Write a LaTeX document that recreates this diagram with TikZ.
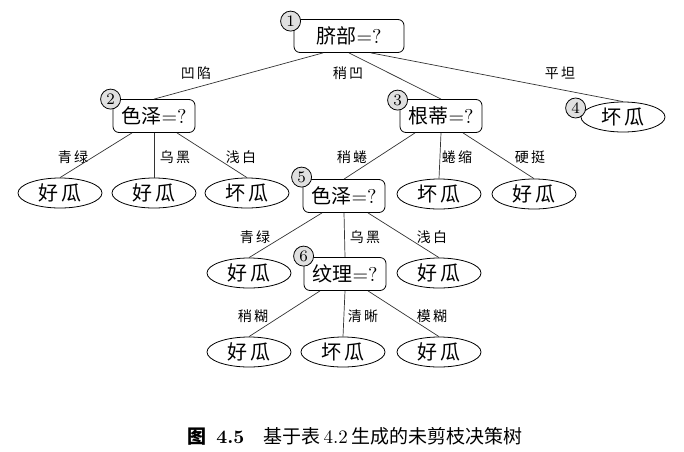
\documentclass[tikz,border=0pt]{standalone}
\usepackage{fontspec}
\newfontfamily\cjk{Noto Sans CJK SC}
\usetikzlibrary{shapes.geometric, calc}

\begin{document}
\begin{tikzpicture}[x=0.5pt, y=-0.5pt,
    decision/.style={rectangle, draw, rounded corners=3pt, minimum width=41pt, minimum height=16.5pt, inner sep=1pt, font=\fontsize{10}{11}\selectfont},
    leaf/.style={ellipse, draw, minimum width=42pt, minimum height=15pt, inner sep=0pt, font=\fontsize{10}{11}\selectfont\cjk},
    num/.style={circle, draw, fill=black!12, minimum size=10pt, inner sep=0pt, font=\fontsize{8}{8}\selectfont},
    lbl/.style={font=\fontsize{7}{8}\selectfont\cjk},
    branch/.style={draw=black!80, line width=0.35pt}
]
\useasboundingbox (0,0) rectangle (684,451);

% Decision nodes
\node[decision, minimum width=55pt] (n1) at (349,36) {{\cjk 脐部}=?};
\node[decision] (n2) at (154,116) {{\cjk 色泽}=?};
\node[decision] (n3) at (441,116) {{\cjk 根蒂}=?};
\node[decision] (n5) at (344,196) {{\cjk 色泽}=?};
\node[decision] (n6) at (345,274) {{\cjk 纹理}=?};

% Leaves
\node[leaf] (n4) at (623,117) {坏\,瓜};
\node[leaf] (l21) at (60,193) {好\,瓜};
\node[leaf] (l22) at (154,193) {好\,瓜};
\node[leaf] (l23) at (247,193) {坏\,瓜};
\node[leaf] (l31) at (439,194) {坏\,瓜};
\node[leaf] (l32) at (534,194) {好\,瓜};
\node[leaf] (l51) at (249,273) {好\,瓜};
\node[leaf] (l53) at (439,273) {好\,瓜};
\node[leaf] (l61) at (249,352) {好\,瓜};
\node[leaf] (l62) at (343,352) {坏\,瓜};
\node[leaf] (l63) at (439,352) {好\,瓜};

% Branches
\draw[branch] ($(n1.south)+(-26,0)$) -- (n2.north);
\draw[branch] (n1.south) -- (n3.north);
\draw[branch] ($(n1.south)+(22,0)$) -- (n4.north);
\draw[branch] ($(n2.south)+(-22,0)$) -- (l21.north);
\draw[branch] (n2.south) -- (l22.north);
\draw[branch] ($(n2.south)+(23,0)$) -- (l23.north);
\draw[branch] ($(n3.south)+(-26,0)$) -- (n5.north);
\draw[branch] (n3.south) -- (l31.north);
\draw[branch] ($(n3.south)+(22,0)$) -- (l32.north);
\draw[branch] ($(n5.south)+(-22,0)$) -- (l51.north);
\draw[branch] (n5.south) -- (n6.north);
\draw[branch] ($(n5.south)+(24,0)$) -- (l53.north);
\draw[branch] ($(n6.south)+(-25,0)$) -- (l61.north);
\draw[branch] (n6.south) -- (l62.north);
\draw[branch] ($(n6.south)+(23,0)$) -- (l63.north);

% Branch labels
\node[lbl] (b12) at (196,73) {凹\,陷};
\node[lbl] (b13) at (348,73) {稍\,凹};
\node[lbl] (b14) at (560,73) {平\,坦};
\node[lbl] (b21) at (73,157) {青\,绿};
\node[lbl] (b22) at (175,157) {乌\,黑};
\node[lbl] (b23) at (241,157) {浅\,白};
\node[lbl] (b31) at (352,157) {稍\,蜷};
\node[lbl] (b32) at (457,157) {蜷\,缩};
\node[lbl] (b33) at (530,157) {硬\,挺};
\node[lbl] (b51) at (255,237) {青\,绿};
\node[lbl] (b52) at (365,237) {乌\,黑};
\node[lbl] (b53) at (432,237) {浅\,白};
\node[lbl] (b61) at (253,316) {稍\,糊};
\node[lbl] (b62) at (363,316) {清\,晰};
\node[lbl] (b63) at (432,316) {模\,糊};

% Step numbers
\node[num] (c1) at ($(n1.north west)+(-3,2)$) {1};
\node[num] (c2) at ($(n2.north west)+(-2,0)$) {2};
\node[num] (c3) at ($(n3.north west)+(-2,1)$) {3};
\node[num] (c4) at ($(n4.west)+(-5,-9)$) {4};
\node[num] (c5) at ($(n5.north west)+(-1,-2)$) {5};
\node[num] (c6) at ($(n6.north west)+(0,-1)$) {6};

% Caption
\node[font=\fontsize{9.5}{10}\selectfont] (cap) at (355,436) {{\bfseries\cjk 图}\enspace\textbf{4.5}\quad{\cjk 基于表}\,4.2\,{\cjk 生成的未剪枝决策树}};
\end{tikzpicture}
\end{document}
